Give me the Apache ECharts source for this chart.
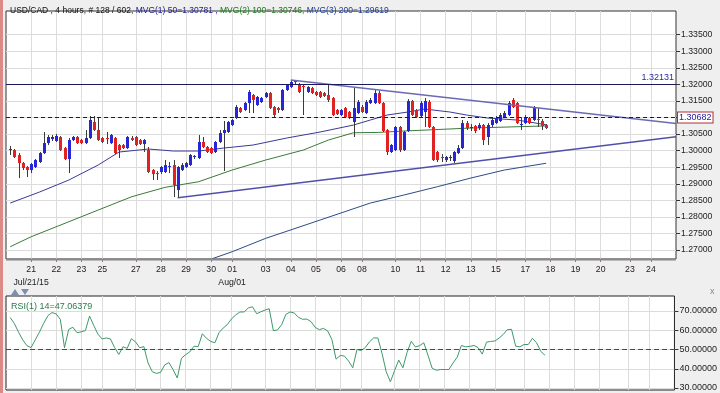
<!DOCTYPE html>
<html><head><meta charset="utf-8">
<script src="https://cdn.jsdelivr.net/npm/echarts@6/dist/echarts.min.js"></script>
<style>
html,body{margin:0;padding:0;background:#efefef;}
#c{width:720px;height:393px;}
#strip{position:absolute;left:0;top:0;width:3px;height:393px;background:#dc8a86;z-index:5}
</style></head><body>
<div id="strip"></div>
<div id="c"></div>
<script>
// ---------- data ----------
const priceTicks = [1.27,1.275,1.28,1.285,1.29,1.295,1.30,1.305,1.31,1.315,1.32,1.325,1.33,1.335];
const rsiTicks = [30,40,50,60,70];
const xTickIdx  = [6,12,18,23,31,37,43,49,54,62,68,74,80,85,93,99,105,111,117,124,130,136,142,149,154];
const xTickText = ['21','22','23','25','27','28','29','30','01','03','04','05','06','08','10','11','12','13','15','17','18','19','20','23','24'];
const xSubIdx  = [6, 54];
const xSubText = ['Jul/21/15', 'Aug/01'];

const candleOpen = [1.30018,1.30018,1.29867,1.29625,1.29505,1.29414,1.29505,1.29656,1.29927,1.30229,
1.30350,1.30290,1.30411,1.30078,1.29746,1.30320,1.30411,1.30320,1.30229,1.30380,
1.30864,1.30622,1.30380,1.30380,1.30229,1.30380,1.30169,1.30169,1.30078,1.30380,
1.30411,1.30320,1.30199,1.30018,1.29414,1.29323,1.29354,1.29354,1.29505,1.29565,
1.28810,1.29414,1.29505,1.29565,1.29807,1.29776,1.30260,1.30109,1.30078,1.29958,
1.30260,1.30531,1.30562,1.30773,1.30984,1.31286,1.31226,1.31437,1.31679,1.31377,
1.31468,1.31619,1.31739,1.31317,1.31286,1.31226,1.31830,1.31921,1.32072,1.31981,
1.31951,1.31770,1.31890,1.31770,1.31770,1.31739,1.31679,1.31588,1.31226,1.31075,
1.31286,1.31166,1.30864,1.31135,1.31317,1.31135,1.31437,1.31437,1.31739,1.31437,
1.30622,1.29958,1.30018,1.30713,1.30018,1.30592,1.31498,1.31226,1.31045,1.31166,
1.31468,1.30713,1.29958,1.29807,1.29716,1.29776,1.29686,1.29927,1.30078,1.30833,
1.30682,1.30743,1.30682,1.30773,1.30411,1.30773,1.30833,1.30894,1.31015,1.31075,
1.31528,1.31437,1.30773,1.30833,1.30984,1.30924,1.30954,1.30894,1.30773];
const candleClose = [1.30048,1.29807,1.29625,1.29474,1.29414,1.29595,1.29716,1.29927,1.30229,1.30411,
1.30411,1.30441,1.30018,1.29746,1.30320,1.30411,1.30229,1.30229,1.30380,1.30924,
1.30622,1.30320,1.30260,1.30350,1.30471,1.29927,1.30018,1.30078,1.30411,1.30320,
1.30169,1.30199,1.30320,1.29354,1.29293,1.29293,1.29505,1.29565,1.29535,1.28961,
1.29505,1.29565,1.29625,1.29867,1.29837,1.30260,1.30109,1.29958,1.29927,1.30260,
1.30531,1.30622,1.30864,1.30924,1.31317,1.31166,1.31437,1.31770,1.31528,1.31619,
1.31588,1.31739,1.31286,1.31075,1.31226,1.31830,1.31981,1.32072,1.32102,1.31770,
1.31921,1.31921,1.31739,1.31679,1.31619,1.31649,1.31528,1.31075,1.31105,1.31226,
1.31015,1.30984,1.31286,1.31468,1.31166,1.31468,1.31528,1.31739,1.31437,1.30592,
1.29958,1.30169,1.30713,1.30018,1.30562,1.31498,1.31075,1.31015,1.31437,1.31498,
1.30713,1.29716,1.29716,1.29776,1.29807,1.29807,1.29958,1.30078,1.30833,1.30682,
1.30713,1.30592,1.30773,1.30320,1.30773,1.30924,1.30984,1.31075,1.31135,1.31437,
1.31317,1.30833,1.30803,1.31015,1.30833,1.31286,1.30924,1.30743,1.30682];
const candleHigh = [1.30139,1.30048,1.29927,1.29656,1.29535,1.29625,1.29746,1.29958,1.30562,1.30471,
1.30471,1.30501,1.30441,1.30109,1.30380,1.30441,1.30441,1.30350,1.30622,1.31045,
1.31045,1.30984,1.30411,1.30562,1.30501,1.30411,1.30199,1.30199,1.30441,1.30441,
1.30441,1.30350,1.30350,1.30109,1.29444,1.29384,1.29535,1.29716,1.29656,1.29716,
1.29535,1.29625,1.29656,1.29897,1.29867,1.30471,1.30411,1.30139,1.30109,1.30290,
1.30622,1.30894,1.30894,1.30954,1.31377,1.31317,1.31468,1.31830,1.31709,1.31649,
1.31619,1.31770,1.31770,1.31347,1.31317,1.31860,1.32011,1.32132,1.32131,1.32041,
1.31981,1.31951,1.31921,1.31800,1.31800,1.31770,1.31981,1.31619,1.31256,1.31256,
1.31317,1.31196,1.31890,1.31528,1.31377,1.31528,1.31588,1.31830,1.31800,1.31468,
1.30652,1.30199,1.30743,1.30743,1.30592,1.31558,1.31528,1.31256,1.31498,1.31588,
1.31528,1.30743,1.29988,1.29897,1.29837,1.29867,1.29988,1.30169,1.30924,1.30894,
1.30803,1.30773,1.30833,1.30803,1.30833,1.30984,1.31045,1.31135,1.31196,1.31498,
1.31588,1.31468,1.31015,1.31075,1.31015,1.31347,1.31286,1.30954,1.30803];
const candleLow = [1.29867,1.29776,1.29172,1.29414,1.29203,1.29323,1.29474,1.29625,1.29897,1.30169,
1.30290,1.30260,1.29988,1.29716,1.29323,1.30290,1.30199,1.30199,1.30199,1.30350,
1.30592,1.30290,1.30229,1.30199,1.30199,1.29897,1.29776,1.30048,1.30048,1.30290,
1.30139,1.30169,1.29958,1.29323,1.29112,1.29112,1.29293,1.29323,1.29323,1.28599,
1.28568,1.29384,1.29474,1.29535,1.29746,1.29746,1.30078,1.29927,1.29897,1.29927,
1.30229,1.29384,1.30531,1.30743,1.30954,1.31135,1.31196,1.31135,1.31135,1.31347,
1.31437,1.31588,1.31256,1.31015,1.31135,1.31196,1.31800,1.31890,1.32011,1.31739,
1.31075,1.31739,1.31709,1.31649,1.31588,1.31619,1.31468,1.31045,1.31075,1.31045,
1.30984,1.30954,1.30411,1.31105,1.31135,1.31105,1.31407,1.31407,1.31407,1.30562,
1.29867,1.29927,1.29988,1.29958,1.29988,1.30562,1.31045,1.30984,1.31015,1.30713,
1.30682,1.29686,1.29656,1.29656,1.29656,1.29686,1.29625,1.29897,1.30048,1.30622,
1.30592,1.30531,1.30622,1.30169,1.30169,1.30713,1.30803,1.30864,1.30984,1.31045,
1.31286,1.30803,1.30622,1.30803,1.30803,1.30894,1.30713,1.30622,1.30652];

const rsiValues = [66.6,63.5,59,55,52,51,55,59,63.5,67.5,
69.2,68.5,65.7,50.9,60.4,61.6,58.7,59.2,59.8,67.4,
62.5,58,55.5,56,55.5,51,47.4,51.4,50.6,55.6,
54,50.9,51.5,43,38.5,37.6,38.1,42,43.2,39.5,
35.2,45.5,47.3,48.8,51.7,51.5,58.2,55.8,54.2,53.5,
58.8,61.2,63,66,68,69.5,69.5,71.6,72.2,68.6,
69.6,70.5,71.2,59.7,60.2,63,68.3,69.5,69,66.7,
65.7,65.8,64.5,61.5,60.3,61,59.6,55.2,45,46.9,
46.6,44,40.5,50,49.5,51,54,56,56,48,
38.5,33.2,39,44.5,40.5,48.5,54.3,51.3,52,53.5,
47,40.3,39.2,39.6,39.6,39.6,43,46,52.1,51.4,
51.6,52.1,51,47.6,53.8,54.2,54.4,55.9,57.8,60.3,
60.5,51.7,51.4,52.6,52.6,55.8,53.5,49,47.06379];

// moving averages: [category index, value] read at sample points
const ma50Pts = [[1,1.28417],[8,1.28750],[15,1.29112],[22,1.29565],[27,1.29958],[34,1.30048],[40,1.29988],[46,1.29988],[52,1.30078],[59,1.30169],[67,1.30380],[75,1.30562],[83,1.30773],[87,1.30924],[91,1.31075],[96,1.31166],[100,1.31256],[106,1.31166],[110,1.31075],[115,1.30984],[122,1.30924],[129,1.30781]];
const ma100Pts = [[1,1.27098],[6,1.27400],[15,1.27853],[22,1.28206],[30,1.28608],[38,1.28892],[46,1.29061],[54,1.29414],[62,1.29716],[71,1.30018],[77,1.30320],[83,1.30540],[89,1.30550],[95,1.30592],[111,1.30682],[129,1.30746]];
const ma200Pts = [[42,1.26450],[49,1.26726],[54,1.26947],[62,1.27351],[75,1.27904],[87,1.28417],[95,1.28659],[103,1.28910],[111,1.29172],[119,1.29414],[129,1.29619]];

const resistance = 1.32131;
const lastClose = 1.30682;
const upperTrend = [[68,1.32131],[160,1.3082]];
const lowerTrend = [[41,1.28578],[160,1.3042]];
const rsiLast = 47.06379;
const ma50Last = 1.30781, ma100Last = 1.30746, ma200Last = 1.29619;

// ---------- chart ----------
const N = 161;
const cats = Array.from({length: N}, (_, k) => String(k));
const tickSet = new Set(xTickIdx);
const tickMap = {}; xTickIdx.forEach((k, j) => tickMap[k] = xTickText[j]);
const subMap = {}; xSubIdx.forEach((k, j) => subMap[k] = xSubText[j]);
const candleData = candleOpen.map((o, i) => [i + 1, o, candleClose[i], candleLow[i], candleHigh[i]]);
const rsiData = rsiValues.map((v, i) => [i + 1, v]);
const FONT = 'Liberation Sans, Arial, sans-serif';
const TF = 8.5;

const chart = echarts.init(document.getElementById('c'), null, {renderer: 'canvas'});
chart.setOption({
  animation: false,
  backgroundColor: '#efefef',
  textStyle: {fontFamily: FONT},
  title: [{
    left: 5, top: 1,
    text: '{a|USD/CAD , 4 hours, # 128 / 602, }{b|MVG(1) 50=' + ma50Last.toFixed(5) + ' , }{c|MVG(2) 100=' + ma100Last.toFixed(5) + ', }{d|MVG(3) 200=' + ma200Last.toFixed(5) + '}',
    textStyle: {fontSize: TF, fontWeight: 'normal', fontFamily: FONT, rich: {
      a: {color: '#111', fontSize: TF, fontFamily: FONT},
      b: {color: '#1c1c8c', fontSize: TF, fontFamily: FONT},
      c: {color: '#1a7a1a', fontSize: TF, fontFamily: FONT},
      d: {color: '#2040a0', fontSize: TF, fontFamily: FONT}
    }}
  }, {
    left: 6, top: 297,
    text: 'RSI(1) 14=' + rsiLast.toFixed(5),
    textStyle: {fontSize: 9, fontWeight: 'normal', color: '#2a7a4a', fontFamily: FONT}
  }],
  grid: [
    {left: 6, top: 11, width: 670, height: 248, show: true, backgroundColor: '#fff', borderColor: '#333', borderWidth: 1},
    {left: 6, top: 296, width: 670, height: 94, show: true, backgroundColor: '#fff', borderColor: '#222', borderWidth: 1}
  ],
  xAxis: [{
    type: 'category', gridIndex: 0, data: cats, boundaryGap: false,
    axisLine: {show: false},
    axisTick: {show: true, interval: (i) => tickSet.has(i), length: 3, lineStyle: {color: '#c86060'}},
    axisLabel: {interval: (i) => tickSet.has(i), fontSize: 8.7, color: '#222', margin: 4, lineHeight: 13,
      formatter: (v) => { const k = Number(v); return (tickMap[k] || '') + (subMap[k] ? '\n' + subMap[k] : ''); }},
    splitLine: {show: true, interval: (i) => tickSet.has(i), lineStyle: {color: '#dcdcdc'}}
  }, {
    type: 'category', gridIndex: 1, data: cats, boundaryGap: false,
    axisLine: {show: false}, axisTick: {show: false}, axisLabel: {show: false},
    splitLine: {show: true, interval: (i) => tickSet.has(i), lineStyle: {color: '#dcdcdc'}}
  }],
  yAxis: [{
    type: 'value', gridIndex: 0, position: 'right', min: 1.26728, max: 1.34216,
    axisLine: {show: false},
    axisTick: {show: true, customValues: priceTicks, length: 4, lineStyle: {color: '#333'}},
    axisLabel: {customValues: priceTicks, formatter: (v) => v.toFixed(5), fontSize: 8.7, color: '#222', margin: 5},
    splitLine: {show: true, lineStyle: {color: '#dcdcdc'}}
  }, {
    type: 'value', gridIndex: 1, position: 'right', min: 28.96, max: 77.8,
    axisLine: {show: false},
    axisTick: {show: true, customValues: rsiTicks, length: 4, lineStyle: {color: '#333'}},
    axisLabel: {customValues: rsiTicks, formatter: (v) => v.toFixed(5), fontSize: 9, color: '#222', margin: 5},
    splitLine: {show: true, lineStyle: {color: '#dcdcdc'}}
  }],
  series: [{
    name: 'MA200', type: 'line', xAxisIndex: 0, yAxisIndex: 0, data: ma200Pts, showSymbol: false, silent: true,
    lineStyle: {color: '#2e4a86', width: 1}, z: 2
  }, {
    name: 'MA100', type: 'line', xAxisIndex: 0, yAxisIndex: 0, data: ma100Pts, showSymbol: false, silent: true,
    lineStyle: {color: '#3b7a3b', width: 1}, z: 2
  }, {
    name: 'MA50', type: 'line', xAxisIndex: 0, yAxisIndex: 0, data: ma50Pts, showSymbol: false, silent: true,
    lineStyle: {color: '#3a3a98', width: 1}, z: 2,
    markLine: {
      silent: true, symbol: ['none', 'none'], animation: false,
      data: [
        [{coord: upperTrend[0], lineStyle: {color: '#6a6ab4', width: 1.5, type: 'solid'}}, {coord: upperTrend[1]}],
        [{coord: lowerTrend[0], lineStyle: {color: '#5050aa', width: 1.5, type: 'solid'}}, {coord: lowerTrend[1]}],
        {yAxis: resistance, lineStyle: {color: '#1a1a5a', width: 1, type: 'solid'},
          label: {show: true, position: 'insideEndTop', formatter: resistance.toFixed(5), color: '#2a2aa0', fontSize: 9, distance: 2}},
        {yAxis: lastClose, lineStyle: {color: '#1a1a40', width: 1, type: [4, 3]},
          label: {show: true, position: 'end', distance: 2, formatter: lastClose.toFixed(5), color: '#1a1aa0', fontSize: 9,
            backgroundColor: '#fff', borderColor: '#b03030', borderWidth: 1, padding: [1, 1, 0, 1]}}
      ]
    }
  }, {
    name: 'USDCAD', type: 'custom', xAxisIndex: 0, yAxisIndex: 0, data: candleData, silent: true, z: 3,
    encode: {x: 0, y: [1, 2, 3, 4]},
    renderItem: (params, api) => {
      const x = api.value(0), o = api.value(1), c = api.value(2), l = api.value(3), h = api.value(4);
      const pO = api.coord([x, o]), pC = api.coord([x, c]), pL = api.coord([x, l]), pH = api.coord([x, h]);
      const cx = Math.round(pO[0]) + 0.5;
      const top = Math.min(pO[1], pC[1]);
      const hgt = Math.max(1, Math.abs(pO[1] - pC[1]));
      const doji = Math.abs(c - o) < 0.00012;
      const fill = doji ? '#444' : (c > o ? '#2626d6' : '#e02222');
      return {type: 'group', children: [
        {type: 'line', shape: {x1: cx, y1: pH[1], x2: cx, y2: pL[1]}, style: {stroke: '#3a3a3a', lineWidth: 1}},
        {type: 'rect', shape: {x: cx - 1.5, y: top, width: 3, height: hgt}, style: {fill: fill}}
      ]};
    }
  }, {
    name: 'RSI', type: 'line', xAxisIndex: 1, yAxisIndex: 1, data: rsiData, showSymbol: false, silent: true,
    lineStyle: {color: '#3d9a6a', width: 1},
    markLine: {
      silent: true, symbol: ['none', 'none'], animation: false,
      data: [
        {yAxis: 50, lineStyle: {color: '#a82424', width: 1, type: [5, 3]}, label: {show: false}},
        {yAxis: rsiLast, lineStyle: {opacity: 0},
          label: {show: true, position: 'end', distance: 3, formatter: rsiLast.toFixed(5), color: '#1a1aa0', fontSize: 9,
            backgroundColor: '#fff', borderColor: '#b03030', borderWidth: 1, padding: [1, 1, 0, 1]}}
      ]
    }
  }],
  graphic: [
    {type: 'rect', shape: {x: 6, y: 258.5, width: 670, height: 2}, style: {fill: '#8a8a8a'}, z: 10},
    {type: 'polygon', shape: {points: [[11, 295], [15, 289], [19, 295]]}, style: {fill: '#7d8fb0'}},
    {type: 'polygon', shape: {points: [[21, 289], [29, 289], [25, 295]]}, style: {fill: '#7d8fb0'}},
    {type: 'text', left: 710, top: 287, style: {text: 'x', fill: '#7a86a8', fontSize: 9, fontFamily: FONT}}
  ]
});
</script></body></html>
